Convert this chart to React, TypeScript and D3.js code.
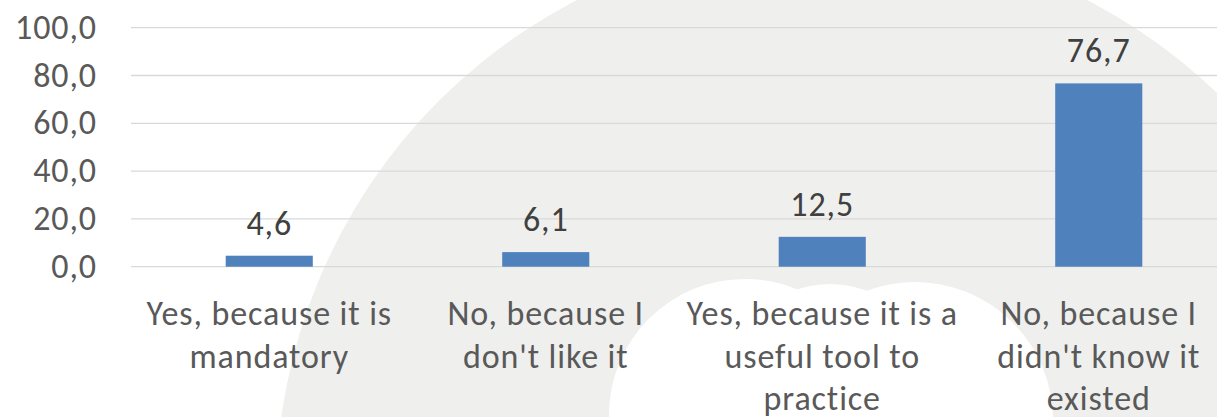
import * as d3 from "d3";

const categories = [
  ["Yes, because it is", "mandatory"],
  ["No, because I", "don't like it"],
  ["Yes, because it is a", "useful tool to", "practice"],
  ["No, because I", "didn't know it", "existed"]
];
const values = [4.6, 6.1, 12.5, 76.7];
const yTicks = [0, 20, 40, 60, 80, 100];

const locale = d3.formatLocale({ decimal: ",", thousands: ".", grouping: [3], currency: ["", ""] });
const fmt = locale.format(".1f");

const font = "Carlito, Calibri, Lato, sans-serif";
const fontSize = 34;
const spacing = 0.9;

export default function App() {
  const width = 1217;
  const height = 417;
  const margin = { top: 27.7, left: 131, right: -20, bottom: 150.3 };
  const keys = categories.map((_, i) => String(i));
  const x = d3
    .scaleBand<string>()
    .domain(keys)
    .range([margin.left, width - margin.right])
    .paddingInner(0.685)
    .paddingOuter(0.3425);
  const y = d3.scaleLinear([0, 100], [height - margin.bottom, margin.top]);

  return (
    <svg
      width={width}
      height={height}
      viewBox={`0 0 ${width} ${height}`}
      style={{ position: "absolute", left: 0, top: 0, display: "block" }}
    >
      <rect x="0" y="0" width={width} height={height} fill="#ffffff" />
      {/* faint logo watermark behind the plot */}
      <g>
        <circle cx="832" cy="494" r="556" fill="#eff0ee" />
        <circle cx="745" cy="415" r="136" fill="#ffffff" />
        <circle cx="915" cy="420" r="138" fill="#ffffff" />
        <ellipse cx="830" cy="422" rx="120" ry="138" fill="#ffffff" />
      </g>
      {yTicks.map((tick) => (
        <g key={tick}>
          <line
            x1={margin.left}
            x2={width}
            y1={y(tick)}
            y2={y(tick)}
            stroke="#d9d9d9"
            strokeWidth="1.3"
          />
          <text
            x={97}
            y={y(tick) + 11}
            textAnchor="end"
            fontFamily={font}
            fontSize={fontSize}
            letterSpacing={spacing}
            fill="#595959"
          >
            {fmt(tick)}
          </text>
        </g>
      ))}
      {values.map((v, i) => {
        const bx = x(String(i)) ?? 0;
        const cx = bx + x.bandwidth() / 2;
        return (
          <g key={i}>
            <rect x={bx} y={y(v)} width={x.bandwidth()} height={y(0) - y(v)} fill="#4f81bd" />
            <text
              x={cx}
              y={y(v) - 21}
              textAnchor="middle"
              fontFamily={font}
              fontSize={fontSize}
              letterSpacing={spacing}
              fill="#404040"
            >
              {fmt(v)}
            </text>
            <text
              textAnchor="middle"
              fontFamily={font}
              fontSize={fontSize}
              letterSpacing={spacing}
              fill="#595959"
            >
              {categories[i].map((line, j) => (
                <tspan key={j} x={cx} y={325 + j * 42.5}>
                  {line}
                </tspan>
              ))}
            </text>
          </g>
        );
      })}
    </svg>
  );
}
